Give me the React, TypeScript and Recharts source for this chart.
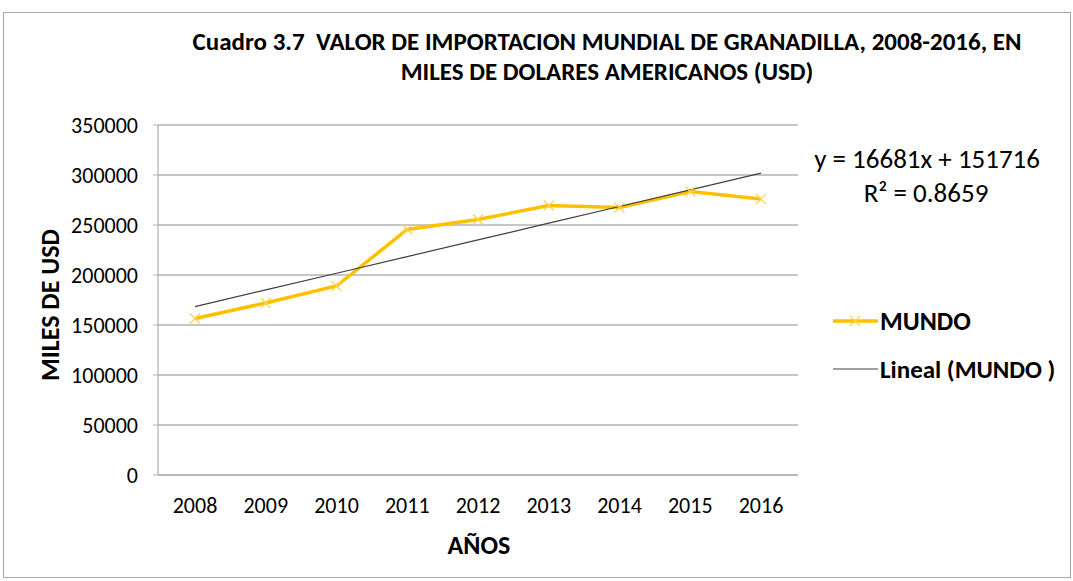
import { LineChart, Line, XAxis, YAxis, CartesianGrid } from "recharts";

const years = ["2008", "2009", "2010", "2011", "2012", "2013", "2014", "2015", "2016"];
const mundo = [156500, 172000, 189000, 245500, 255500, 269500, 267500, 283500, 276000];
const yTicks = [0, 50000, 100000, 150000, 200000, 250000, 300000, 350000];

// coefficients of the trendline as printed on the chart
const slope = 16681;
const intercept = 151716;

const data = years.map((year, i) => ({
  year,
  mundo: mundo[i],
  trend: slope * (i + 1) + intercept,
}));

const font = "Calibri, Carlito, Lato, 'Open Sans', sans-serif";

const CrossDot = (props: any) => {
  const { cx, cy } = props;
  if (cx == null || cy == null) return null;
  const s = 5;
  return (
    <g stroke="#FFD34D" strokeWidth={1.2}>
      <line x1={cx - s} y1={cy - s} x2={cx + s} y2={cy + s} />
      <line x1={cx - s} y1={cy + s} x2={cx + s} y2={cy - s} />
    </g>
  );
};

export default function App() {
  return (
    <div
      style={{
        position: "fixed",
        left: 0,
        top: 0,
        width: 1073,
        height: 581,
        background: "#fff",
        fontFamily: font,
      }}
    >
      <div
        style={{
          position: "absolute",
          left: 3,
          top: 12,
          width: 1068,
          height: 566,
          border: "1px solid #a6a6a6",
          boxSizing: "border-box",
        }}
      />
      <div
        style={{
          position: "absolute",
          left: 100,
          top: 27,
          width: 1014,
          textAlign: "center",
          fontWeight: "bold",
          fontSize: 25,
          lineHeight: "30px",
          color: "#000",
          whiteSpace: "nowrap",
        }}
      >
        Cuadro 3.7&nbsp; VALOR DE IMPORTACION MUNDIAL DE GRANADILLA, 2008-2016, EN
        <br />
        MILES DE DOLARES AMERICANOS (USD)
      </div>

      <LineChart
        width={1073}
        height={581}
        data={data}
        margin={{ top: 125, right: 275, bottom: 0, left: 0 }}
        style={{ position: "absolute", left: 0, top: 0 }}
      >
        <CartesianGrid vertical={false} stroke="#b3b3b3" strokeWidth={1.3} />
        <XAxis
          dataKey="year"
          height={106}
          padding={{ left: 37, right: 37 }}
          axisLine={{ stroke: "#b3b3b3", strokeWidth: 1.3 }}
          tickLine={false}
          tickSize={0}
          tickMargin={22}
          tick={{ fill: "#000", fontSize: 22, fontFamily: font }}
        />
        <YAxis
          width={158}
          domain={[0, 350000]}
          ticks={yTicks}
          interval={0}
          axisLine={{ stroke: "#b3b3b3", strokeWidth: 1.3 }}
          tickLine={{ stroke: "#b3b3b3" }}
          tickSize={5}
          tickMargin={15}
          tick={{ fill: "#000", fontSize: 22, fontFamily: font }}
        />
        <Line
          dataKey="mundo"
          stroke="#FFC000"
          strokeWidth={3.5}
          dot={<CrossDot />}
          activeDot={false}
          isAnimationActive={false}
        />
        <Line
          dataKey="trend"
          stroke="#404040"
          strokeWidth={1.2}
          dot={false}
          activeDot={false}
          isAnimationActive={false}
        />
      </LineChart>

      <div
        style={{
          position: "absolute",
          left: 50,
          top: 305,
          transform: "translate(-50%, -50%) rotate(-90deg)",
          whiteSpace: "nowrap",
          fontWeight: "bold",
          fontSize: 26,
          color: "#000",
        }}
      >
        MILES DE USD
      </div>
      <div
        style={{
          position: "absolute",
          left: 479,
          top: 545,
          transform: "translate(-50%, -50%)",
          fontWeight: "bold",
          fontSize: 26,
          color: "#000",
        }}
      >
        AÑOS
      </div>

      <div
        style={{
          position: "absolute",
          right: 33,
          top: 158,
          transform: "translateY(-50%)",
          textAlign: "right",
          fontSize: 27,
          color: "#000",
          whiteSpace: "nowrap",
        }}
      >
        y = 16681x + 151716
      </div>
      <div
        style={{
          position: "absolute",
          left: 926,
          top: 192,
          transform: "translate(-50%, -50%)",
          fontSize: 27,
          color: "#000",
          whiteSpace: "nowrap",
        }}
      >
        R² = 0.8659
      </div>

      <svg style={{ position: "absolute", left: 830, top: 308 }} width={50} height={70}>
        <line x1={3} y1={13} x2={48} y2={13} stroke="#FFC000" strokeWidth={3.5} />
        <CrossDot cx={25} cy={13} />
        <line x1={3} y1={61} x2={48} y2={61} stroke="#404040" strokeWidth={1.2} />
      </svg>
      <div
        style={{
          position: "absolute",
          left: 880,
          top: 321,
          transform: "translateY(-50%)",
          fontWeight: "bold",
          fontSize: 26,
          color: "#000",
          whiteSpace: "nowrap",
        }}
      >
        MUNDO
      </div>
      <div
        style={{
          position: "absolute",
          left: 880,
          top: 369,
          transform: "translateY(-50%)",
          fontWeight: "bold",
          fontSize: 25,
          color: "#000",
          whiteSpace: "nowrap",
        }}
      >
        Lineal (MUNDO )
      </div>
    </div>
  );
}
